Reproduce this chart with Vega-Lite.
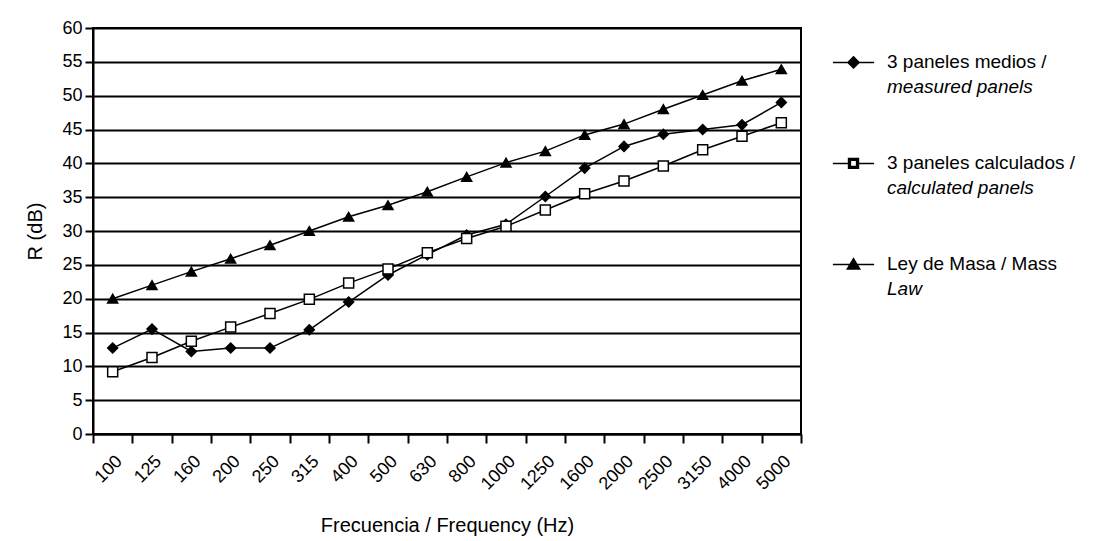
{
  "$schema": "https://vega.github.io/schema/vega-lite/v6.json",
  "width": 708,
  "height": 406,
  "autosize": {"type": "none"},
  "padding": {"left": 93, "top": 28, "right": 297, "bottom": 107},
  "background": "white",
  "config": {
    "font": "Liberation Sans",
    "view": {"stroke": "black", "strokeWidth": 2},
    "axis": {
      "labelFont": "Liberation Sans",
      "titleFont": "Liberation Sans",
      "labelColor": "black",
      "titleColor": "black",
      "labelFontSize": 18,
      "titleFontSize": 20,
      "titleFontWeight": "normal",
      "domainColor": "black",
      "domainWidth": 2,
      "tickColor": "black",
      "tickWidth": 2
    },
    "legend": {
      "labelFont": "Liberation Sans",
      "labelFontSize": 19,
      "labelColor": "black"
    }
  },
  "data": {
    "values": [
      {"f": 100, "s": "3 paneles medios / measured panels", "v": 12.7},
      {"f": 125, "s": "3 paneles medios / measured panels", "v": 15.5},
      {"f": 160, "s": "3 paneles medios / measured panels", "v": 12.2},
      {"f": 200, "s": "3 paneles medios / measured panels", "v": 12.7},
      {"f": 250, "s": "3 paneles medios / measured panels", "v": 12.7},
      {"f": 315, "s": "3 paneles medios / measured panels", "v": 15.4},
      {"f": 400, "s": "3 paneles medios / measured panels", "v": 19.5},
      {"f": 500, "s": "3 paneles medios / measured panels", "v": 23.5},
      {"f": 630, "s": "3 paneles medios / measured panels", "v": 26.5},
      {"f": 800, "s": "3 paneles medios / measured panels", "v": 29.4},
      {"f": 1000, "s": "3 paneles medios / measured panels", "v": 31.0},
      {"f": 1250, "s": "3 paneles medios / measured panels", "v": 35.1},
      {"f": 1600, "s": "3 paneles medios / measured panels", "v": 39.3},
      {"f": 2000, "s": "3 paneles medios / measured panels", "v": 42.5},
      {"f": 2500, "s": "3 paneles medios / measured panels", "v": 44.3},
      {"f": 3150, "s": "3 paneles medios / measured panels", "v": 45.0},
      {"f": 4000, "s": "3 paneles medios / measured panels", "v": 45.7},
      {"f": 5000, "s": "3 paneles medios / measured panels", "v": 49.0},
      {"f": 100, "s": "3 paneles calculados / calculated panels", "v": 9.2},
      {"f": 125, "s": "3 paneles calculados / calculated panels", "v": 11.3},
      {"f": 160, "s": "3 paneles calculados / calculated panels", "v": 13.7},
      {"f": 200, "s": "3 paneles calculados / calculated panels", "v": 15.8},
      {"f": 250, "s": "3 paneles calculados / calculated panels", "v": 17.8},
      {"f": 315, "s": "3 paneles calculados / calculated panels", "v": 19.9},
      {"f": 400, "s": "3 paneles calculados / calculated panels", "v": 22.3},
      {"f": 500, "s": "3 paneles calculados / calculated panels", "v": 24.4},
      {"f": 630, "s": "3 paneles calculados / calculated panels", "v": 26.8},
      {"f": 800, "s": "3 paneles calculados / calculated panels", "v": 28.9},
      {"f": 1000, "s": "3 paneles calculados / calculated panels", "v": 30.7},
      {"f": 1250, "s": "3 paneles calculados / calculated panels", "v": 33.1},
      {"f": 1600, "s": "3 paneles calculados / calculated panels", "v": 35.5},
      {"f": 2000, "s": "3 paneles calculados / calculated panels", "v": 37.4},
      {"f": 2500, "s": "3 paneles calculados / calculated panels", "v": 39.6},
      {"f": 3150, "s": "3 paneles calculados / calculated panels", "v": 42.0},
      {"f": 4000, "s": "3 paneles calculados / calculated panels", "v": 44.0},
      {"f": 5000, "s": "3 paneles calculados / calculated panels", "v": 46.0},
      {"f": 100, "s": "Ley de Masa / Mass Law", "v": 20.0},
      {"f": 125, "s": "Ley de Masa / Mass Law", "v": 22.0},
      {"f": 160, "s": "Ley de Masa / Mass Law", "v": 24.0},
      {"f": 200, "s": "Ley de Masa / Mass Law", "v": 25.9},
      {"f": 250, "s": "Ley de Masa / Mass Law", "v": 27.9},
      {"f": 315, "s": "Ley de Masa / Mass Law", "v": 30.0},
      {"f": 400, "s": "Ley de Masa / Mass Law", "v": 32.1},
      {"f": 500, "s": "Ley de Masa / Mass Law", "v": 33.8},
      {"f": 630, "s": "Ley de Masa / Mass Law", "v": 35.8},
      {"f": 800, "s": "Ley de Masa / Mass Law", "v": 38.0},
      {"f": 1000, "s": "Ley de Masa / Mass Law", "v": 40.1},
      {"f": 1250, "s": "Ley de Masa / Mass Law", "v": 41.8},
      {"f": 1600, "s": "Ley de Masa / Mass Law", "v": 44.2},
      {"f": 2000, "s": "Ley de Masa / Mass Law", "v": 45.8},
      {"f": 2500, "s": "Ley de Masa / Mass Law", "v": 48.0},
      {"f": 3150, "s": "Ley de Masa / Mass Law", "v": 50.1},
      {"f": 4000, "s": "Ley de Masa / Mass Law", "v": 52.2},
      {"f": 5000, "s": "Ley de Masa / Mass Law", "v": 53.9}
    ]
  },
  "encoding": {
    "x": {
      "field": "f",
      "type": "ordinal",
      "scale": {"type": "band", "paddingInner": 0, "paddingOuter": 0},
      "axis": {
        "title": "Frecuencia / Frequency (Hz)",
        "labelAngle": -45,
        "tickBand": "extent",
        "tickSize": 9,
        "labelPadding": 9,
        "titlePadding": 22
      }
    },
    "y": {
      "field": "v",
      "type": "quantitative",
      "scale": {"domain": [0, 60], "nice": false},
      "axis": {
        "title": "R (dB)",
        "values": [0, 5, 10, 15, 20, 25, 30, 35, 40, 45, 50, 55, 60],
        "grid": true,
        "gridColor": "black",
        "gridWidth": 2,
        "gridOpacity": 1,
        "tickSize": 8,
        "labelPadding": 3,
        "titlePadding": 16
      }
    }
  },
  "resolve": {"scale": {"shape": "independent"}, "legend": {"shape": "independent"}},
  "layer": [
    {
      "mark": {"type": "line", "color": "black", "strokeWidth": 1.5},
      "encoding": {"detail": {"field": "s"}}
    },
    {
      "mark": {"type": "point", "filled": true, "stroke": "black", "strokeWidth": 1.5, "size": 100, "opacity": 1},
      "encoding": {
        "shape": {
          "field": "s",
          "type": "nominal",
          "scale": {
            "domain": ["3 paneles medios / measured panels", "3 paneles calculados / calculated panels", "Ley de Masa / Mass Law"],
            "range": ["diamond", "square", "triangle-up"]
          },
          "legend": null
        },
        "fill": {
          "field": "s",
          "type": "nominal",
          "scale": {
            "domain": ["3 paneles medios / measured panels", "3 paneles calculados / calculated panels", "Ley de Masa / Mass Law"],
            "range": ["black", "white", "black"]
          },
          "legend": null
        }
      }
    },
    {
      "transform": [{"filter": "false"}],
      "mark": {"type": "point", "filled": true, "fill": "black", "stroke": "black", "strokeWidth": 1.5, "opacity": 1},
      "encoding": {
        "shape": {
          "field": "s",
          "type": "nominal",
          "scale": {
            "domain": ["3 paneles medios / measured panels", "3 paneles calculados / calculated panels", "Ley de Masa / Mass Law"],
            "range": [
              "M-1,0.48H1M0,0.21L0.27,0.48L0,0.75L-0.27,0.48Z",
              "M-1,0.48H-0.24M0.24,0.48H1M-0.24,0.24H0.24V0.72H-0.24ZM-0.15,0.33V0.63H0.15V0.33Z",
              "M-1,0.48H1M0,0.2L0.3,0.7L-0.3,0.7Z"
            ]
          },
          "legend": {
            "title": null,
            "orient": "none",
            "legendX": 739,
            "legendY": 3,
            "padding": 0,
            "symbolSize": 1700,
            "symbolStrokeWidth": 1.5,
            "labelOffset": 12,
            "rowPadding": 60,
            "labelBaseline": "top",
            "labelLimit": 300,
            "labelExpr": "datum.value == '3 paneles medios / measured panels' ? '3 paneles medios /' : datum.value == '3 paneles calculados / calculated panels' ? '3 paneles calculados /' : 'Ley de Masa / Mass'"
          }
        }
      }
    },
    {
      "data": {"values": [{"s2": "measured panels"}, {"s2": "calculated panels"}, {"s2": "Law"}]},
      "transform": [{"filter": "false"}],
      "mark": {"type": "point", "filled": false, "fill": "transparent", "stroke": "transparent", "opacity": 1},
      "encoding": {
        "shape": {
          "field": "s2",
          "type": "nominal",
          "scale": {
            "domain": ["measured panels", "calculated panels", "Law"],
            "range": ["M0,0", "M0,0", "M0,0"]
          },
          "legend": {
            "title": null,
            "orient": "none",
            "legendX": 739,
            "legendY": 28,
            "padding": 0,
            "symbolSize": 1700,
            "labelOffset": 12,
            "rowPadding": 60,
            "labelBaseline": "top",
            "labelFontStyle": "italic",
            "labelLimit": 300
          }
        }
      }
    }
  ]
}
